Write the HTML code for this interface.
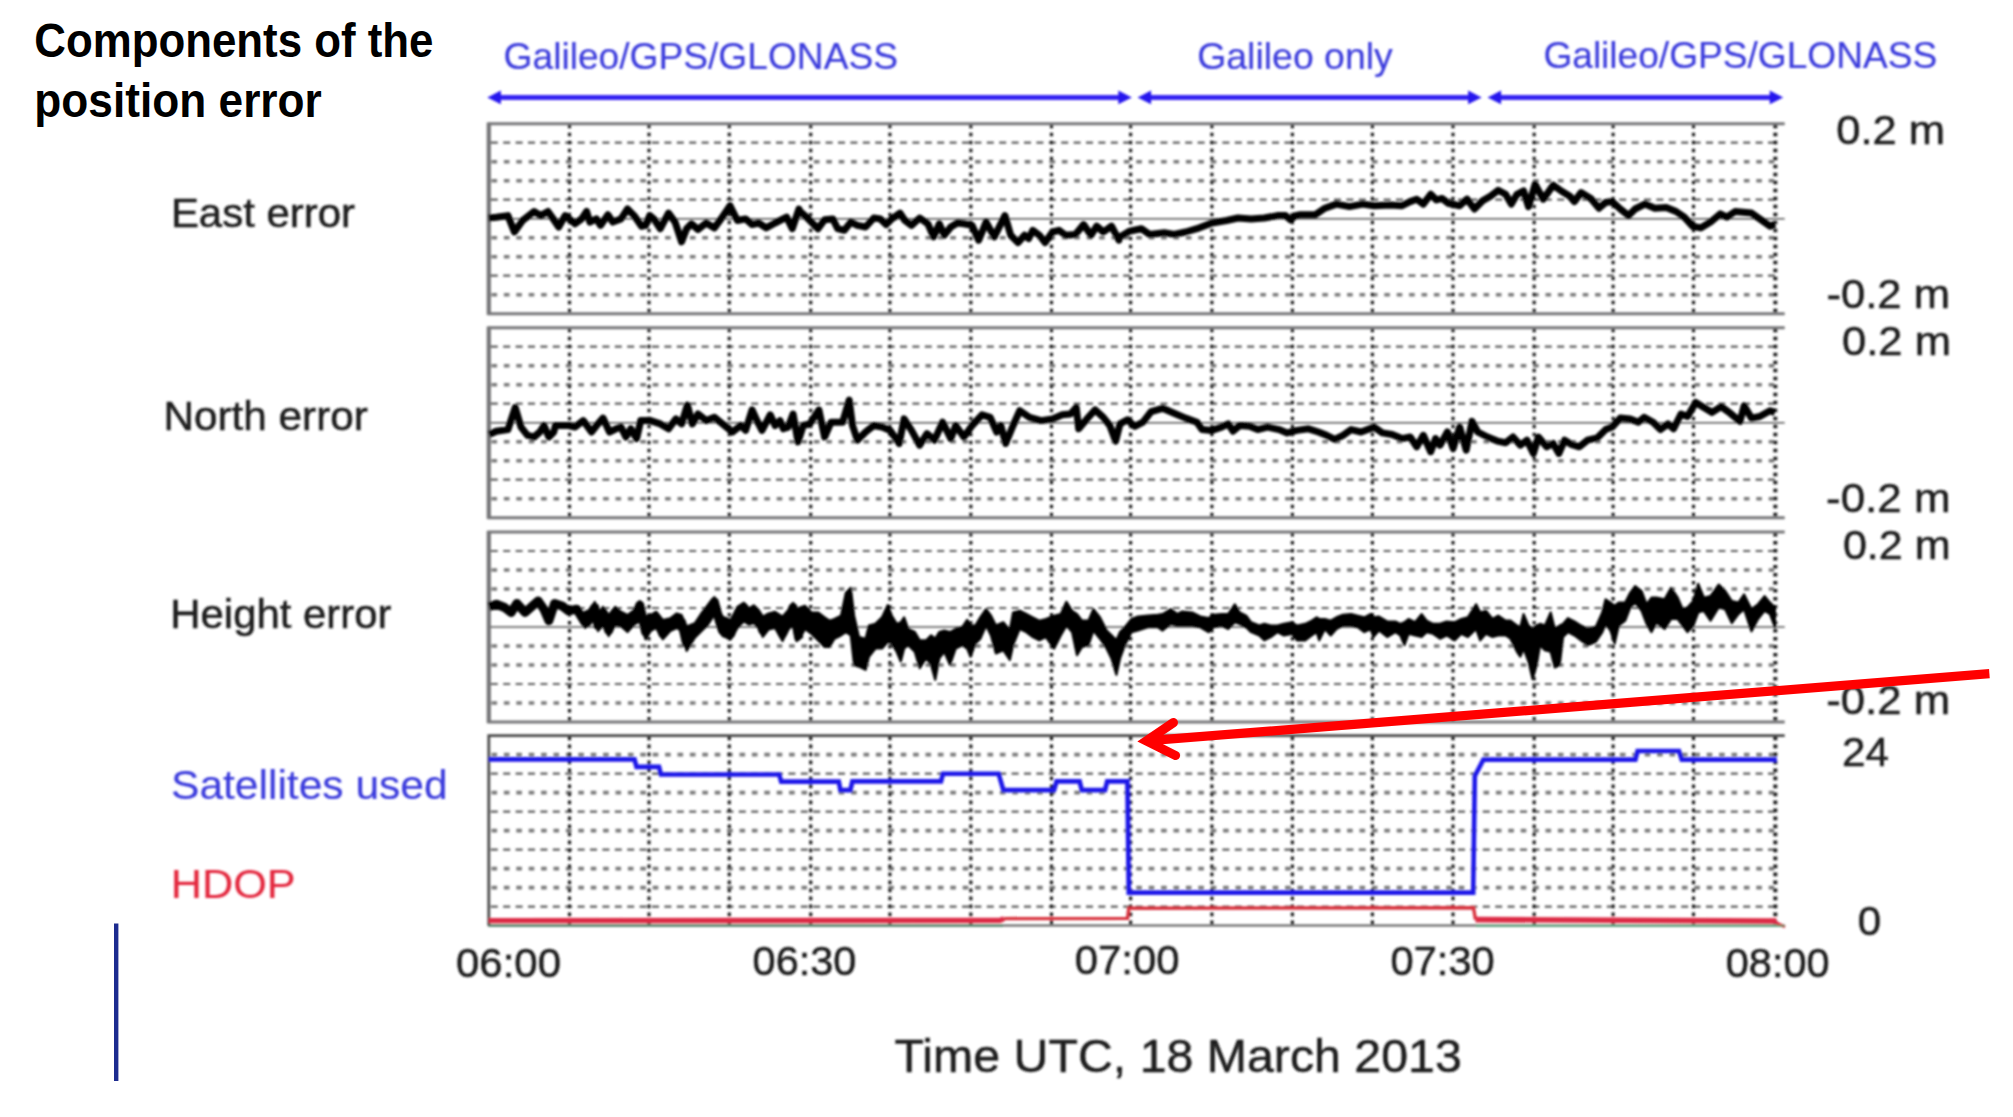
<!DOCTYPE html>
<html lang="en"><head><meta charset="utf-8"><title>Components of the position error</title>
<style>
html,body{margin:0;padding:0;background:#fff;}
body{width:2013px;height:1117px;overflow:hidden;position:relative;font-family:"Liberation Sans",sans-serif;}
svg{position:absolute;left:0;top:0;display:block;}
text{font-family:"Liberation Sans",sans-serif;}
.lbl{font-size:41px;fill:#1c1c1c;stroke:#1c1c1c;stroke-width:0.5px;}
.tick{font-size:40px;fill:#1c1c1c;stroke:#1c1c1c;stroke-width:0.5px;}
.blue{fill:#3a3adc;stroke:#3a3adc;stroke-width:0.15px;}
.red{fill:#e3283e;stroke:#e3283e;stroke-width:0.15px;}
.ttl{font-weight:700;font-size:47.5px;fill:#000;}
</style></head><body>
<svg width="2013" height="1117" viewBox="0 0 2013 1117">
<defs>
<filter id="bl" x="-2%" y="-2%" width="104%" height="104%"><feGaussianBlur stdDeviation="1.2"/></filter>
<filter id="bt" x="-2%" y="-10%" width="104%" height="120%"><feGaussianBlur stdDeviation="0.9"/></filter>
</defs>
<rect x="0" y="0" width="2013" height="1117" fill="#ffffff"/>
<g filter="url(#bl)">
<line x1="490.8" y1="142.7" x2="1775.5" y2="142.7" stroke="#5e5e5e" stroke-width="2.2" stroke-dasharray="7 5.4" fill="none"/>
<line x1="490.8" y1="161.7" x2="1775.5" y2="161.7" stroke="#7a7a7a" stroke-width="3.6" stroke-dasharray="5.6 6.8" stroke-dashoffset="-0.7" fill="none"/>
<line x1="490.8" y1="180.7" x2="1775.5" y2="180.7" stroke="#7a7a7a" stroke-width="3.6" stroke-dasharray="5.6 6.8" stroke-dashoffset="-0.7" fill="none"/>
<line x1="490.8" y1="199.7" x2="1775.5" y2="199.7" stroke="#5e5e5e" stroke-width="2.2" stroke-dasharray="7 5.4" fill="none"/>
<line x1="490.8" y1="237.7" x2="1775.5" y2="237.7" stroke="#7a7a7a" stroke-width="3.6" stroke-dasharray="5.6 6.8" stroke-dashoffset="-0.7" fill="none"/>
<line x1="490.8" y1="256.7" x2="1775.5" y2="256.7" stroke="#7a7a7a" stroke-width="3.6" stroke-dasharray="5.6 6.8" stroke-dashoffset="-0.7" fill="none"/>
<line x1="490.8" y1="275.7" x2="1775.5" y2="275.7" stroke="#5e5e5e" stroke-width="2.2" stroke-dasharray="7 5.4" fill="none"/>
<line x1="490.8" y1="294.7" x2="1775.5" y2="294.7" stroke="#7a7a7a" stroke-width="3.6" stroke-dasharray="5.6 6.8" stroke-dashoffset="-0.7" fill="none"/>
<g stroke="#1e1e1e" stroke-width="3.2" stroke-dasharray="3.6 4.4" fill="none">
<line x1="569.5" y1="124.7" x2="569.5" y2="313.7"/>
<line x1="649.0" y1="124.7" x2="649.0" y2="313.7"/>
<line x1="729.3" y1="124.7" x2="729.3" y2="313.7"/>
<line x1="810.7" y1="124.7" x2="810.7" y2="313.7"/>
<line x1="889.9" y1="124.7" x2="889.9" y2="313.7"/>
<line x1="970.8" y1="124.7" x2="970.8" y2="313.7"/>
<line x1="1051.5" y1="124.7" x2="1051.5" y2="313.7"/>
<line x1="1130.6" y1="124.7" x2="1130.6" y2="313.7"/>
<line x1="1211.9" y1="124.7" x2="1211.9" y2="313.7"/>
<line x1="1292.4" y1="124.7" x2="1292.4" y2="313.7"/>
<line x1="1372.4" y1="124.7" x2="1372.4" y2="313.7"/>
<line x1="1453.0" y1="124.7" x2="1453.0" y2="313.7"/>
<line x1="1534.2" y1="124.7" x2="1534.2" y2="313.7"/>
<line x1="1613.1" y1="124.7" x2="1613.1" y2="313.7"/>
<line x1="1693.5" y1="124.7" x2="1693.5" y2="313.7"/>
<line x1="1775.3" y1="124.7" x2="1775.3" y2="313.7" stroke-width="4"/>
</g>
<line x1="488.8" y1="218.7" x2="1784.7" y2="218.7" stroke="#555" stroke-width="1.6"/>
<path d="M1784.7 123.7 H488.8 V313.7 H1784.7" fill="none" stroke="#767678" stroke-width="3.1" stroke-linejoin="miter"/>
<line x1="488.8" y1="122.7" x2="488.8" y2="314.7" stroke="#767678" stroke-width="4.2"/>
<line x1="490.8" y1="346.7" x2="1775.5" y2="346.7" stroke="#5e5e5e" stroke-width="2.2" stroke-dasharray="7 5.4" fill="none"/>
<line x1="490.8" y1="365.7" x2="1775.5" y2="365.7" stroke="#7a7a7a" stroke-width="3.6" stroke-dasharray="5.6 6.8" stroke-dashoffset="-0.7" fill="none"/>
<line x1="490.8" y1="384.7" x2="1775.5" y2="384.7" stroke="#7a7a7a" stroke-width="3.6" stroke-dasharray="5.6 6.8" stroke-dashoffset="-0.7" fill="none"/>
<line x1="490.8" y1="403.7" x2="1775.5" y2="403.7" stroke="#5e5e5e" stroke-width="2.2" stroke-dasharray="7 5.4" fill="none"/>
<line x1="490.8" y1="441.7" x2="1775.5" y2="441.7" stroke="#7a7a7a" stroke-width="3.6" stroke-dasharray="5.6 6.8" stroke-dashoffset="-0.7" fill="none"/>
<line x1="490.8" y1="460.7" x2="1775.5" y2="460.7" stroke="#7a7a7a" stroke-width="3.6" stroke-dasharray="5.6 6.8" stroke-dashoffset="-0.7" fill="none"/>
<line x1="490.8" y1="479.7" x2="1775.5" y2="479.7" stroke="#5e5e5e" stroke-width="2.2" stroke-dasharray="7 5.4" fill="none"/>
<line x1="490.8" y1="498.7" x2="1775.5" y2="498.7" stroke="#7a7a7a" stroke-width="3.6" stroke-dasharray="5.6 6.8" stroke-dashoffset="-0.7" fill="none"/>
<g stroke="#1e1e1e" stroke-width="3.2" stroke-dasharray="3.6 4.4" fill="none">
<line x1="569.5" y1="328.7" x2="569.5" y2="517.7"/>
<line x1="649.0" y1="328.7" x2="649.0" y2="517.7"/>
<line x1="729.3" y1="328.7" x2="729.3" y2="517.7"/>
<line x1="810.7" y1="328.7" x2="810.7" y2="517.7"/>
<line x1="889.9" y1="328.7" x2="889.9" y2="517.7"/>
<line x1="970.8" y1="328.7" x2="970.8" y2="517.7"/>
<line x1="1051.5" y1="328.7" x2="1051.5" y2="517.7"/>
<line x1="1130.6" y1="328.7" x2="1130.6" y2="517.7"/>
<line x1="1211.9" y1="328.7" x2="1211.9" y2="517.7"/>
<line x1="1292.4" y1="328.7" x2="1292.4" y2="517.7"/>
<line x1="1372.4" y1="328.7" x2="1372.4" y2="517.7"/>
<line x1="1453.0" y1="328.7" x2="1453.0" y2="517.7"/>
<line x1="1534.2" y1="328.7" x2="1534.2" y2="517.7"/>
<line x1="1613.1" y1="328.7" x2="1613.1" y2="517.7"/>
<line x1="1693.5" y1="328.7" x2="1693.5" y2="517.7"/>
<line x1="1775.3" y1="328.7" x2="1775.3" y2="517.7" stroke-width="4"/>
</g>
<line x1="488.8" y1="422.7" x2="1784.7" y2="422.7" stroke="#555" stroke-width="1.6"/>
<path d="M1784.7 327.7 H488.8 V517.7 H1784.7" fill="none" stroke="#767678" stroke-width="3.1" stroke-linejoin="miter"/>
<line x1="488.8" y1="326.7" x2="488.8" y2="518.7" stroke="#767678" stroke-width="4.2"/>
<line x1="490.8" y1="551.0" x2="1775.5" y2="551.0" stroke="#5e5e5e" stroke-width="2.2" stroke-dasharray="7 5.4" fill="none"/>
<line x1="490.8" y1="570.0" x2="1775.5" y2="570.0" stroke="#7a7a7a" stroke-width="3.6" stroke-dasharray="5.6 6.8" stroke-dashoffset="-0.7" fill="none"/>
<line x1="490.8" y1="589.0" x2="1775.5" y2="589.0" stroke="#7a7a7a" stroke-width="3.6" stroke-dasharray="5.6 6.8" stroke-dashoffset="-0.7" fill="none"/>
<line x1="490.8" y1="608.0" x2="1775.5" y2="608.0" stroke="#5e5e5e" stroke-width="2.2" stroke-dasharray="7 5.4" fill="none"/>
<line x1="490.8" y1="646.0" x2="1775.5" y2="646.0" stroke="#7a7a7a" stroke-width="3.6" stroke-dasharray="5.6 6.8" stroke-dashoffset="-0.7" fill="none"/>
<line x1="490.8" y1="665.0" x2="1775.5" y2="665.0" stroke="#7a7a7a" stroke-width="3.6" stroke-dasharray="5.6 6.8" stroke-dashoffset="-0.7" fill="none"/>
<line x1="490.8" y1="684.0" x2="1775.5" y2="684.0" stroke="#5e5e5e" stroke-width="2.2" stroke-dasharray="7 5.4" fill="none"/>
<line x1="490.8" y1="703.0" x2="1775.5" y2="703.0" stroke="#7a7a7a" stroke-width="3.6" stroke-dasharray="5.6 6.8" stroke-dashoffset="-0.7" fill="none"/>
<g stroke="#1e1e1e" stroke-width="3.2" stroke-dasharray="3.6 4.4" fill="none">
<line x1="569.5" y1="533.0" x2="569.5" y2="722.0"/>
<line x1="649.0" y1="533.0" x2="649.0" y2="722.0"/>
<line x1="729.3" y1="533.0" x2="729.3" y2="722.0"/>
<line x1="810.7" y1="533.0" x2="810.7" y2="722.0"/>
<line x1="889.9" y1="533.0" x2="889.9" y2="722.0"/>
<line x1="970.8" y1="533.0" x2="970.8" y2="722.0"/>
<line x1="1051.5" y1="533.0" x2="1051.5" y2="722.0"/>
<line x1="1130.6" y1="533.0" x2="1130.6" y2="722.0"/>
<line x1="1211.9" y1="533.0" x2="1211.9" y2="722.0"/>
<line x1="1292.4" y1="533.0" x2="1292.4" y2="722.0"/>
<line x1="1372.4" y1="533.0" x2="1372.4" y2="722.0"/>
<line x1="1453.0" y1="533.0" x2="1453.0" y2="722.0"/>
<line x1="1534.2" y1="533.0" x2="1534.2" y2="722.0"/>
<line x1="1613.1" y1="533.0" x2="1613.1" y2="722.0"/>
<line x1="1693.5" y1="533.0" x2="1693.5" y2="722.0"/>
<line x1="1775.3" y1="533.0" x2="1775.3" y2="722.0" stroke-width="4"/>
</g>
<line x1="488.8" y1="627.0" x2="1784.7" y2="627.0" stroke="#555" stroke-width="1.6"/>
<path d="M1784.7 532.0 H488.8 V722.0 H1784.7" fill="none" stroke="#767678" stroke-width="3.1" stroke-linejoin="miter"/>
<line x1="488.8" y1="531.0" x2="488.8" y2="723.0" stroke="#767678" stroke-width="4.2"/>
<line x1="490.8" y1="754.6" x2="1775.5" y2="754.6" stroke="#7a7a7a" stroke-width="3.6" stroke-dasharray="5.6 6.8" stroke-dashoffset="-0.7" fill="none"/>
<line x1="490.8" y1="773.6" x2="1775.5" y2="773.6" stroke="#5e5e5e" stroke-width="2.2" stroke-dasharray="7 5.4" fill="none"/>
<line x1="490.8" y1="792.6" x2="1775.5" y2="792.6" stroke="#7a7a7a" stroke-width="3.6" stroke-dasharray="5.6 6.8" stroke-dashoffset="-0.7" fill="none"/>
<line x1="490.8" y1="811.6" x2="1775.5" y2="811.6" stroke="#5e5e5e" stroke-width="2.2" stroke-dasharray="7 5.4" fill="none"/>
<line x1="490.8" y1="830.6" x2="1775.5" y2="830.6" stroke="#7a7a7a" stroke-width="3.6" stroke-dasharray="5.6 6.8" stroke-dashoffset="-0.7" fill="none"/>
<line x1="490.8" y1="849.6" x2="1775.5" y2="849.6" stroke="#5e5e5e" stroke-width="2.2" stroke-dasharray="7 5.4" fill="none"/>
<line x1="490.8" y1="868.6" x2="1775.5" y2="868.6" stroke="#7a7a7a" stroke-width="3.6" stroke-dasharray="5.6 6.8" stroke-dashoffset="-0.7" fill="none"/>
<line x1="490.8" y1="887.6" x2="1775.5" y2="887.6" stroke="#7a7a7a" stroke-width="3.6" stroke-dasharray="5.6 6.8" stroke-dashoffset="-0.7" fill="none"/>
<line x1="490.8" y1="906.6" x2="1775.5" y2="906.6" stroke="#5e5e5e" stroke-width="2.2" stroke-dasharray="7 5.4" fill="none"/>
<g stroke="#1e1e1e" stroke-width="3.2" stroke-dasharray="3.6 4.4" fill="none">
<line x1="569.5" y1="736.6" x2="569.5" y2="925.6"/>
<line x1="649.0" y1="736.6" x2="649.0" y2="925.6"/>
<line x1="729.3" y1="736.6" x2="729.3" y2="925.6"/>
<line x1="810.7" y1="736.6" x2="810.7" y2="925.6"/>
<line x1="889.9" y1="736.6" x2="889.9" y2="925.6"/>
<line x1="970.8" y1="736.6" x2="970.8" y2="925.6"/>
<line x1="1051.5" y1="736.6" x2="1051.5" y2="925.6"/>
<line x1="1130.6" y1="736.6" x2="1130.6" y2="925.6"/>
<line x1="1211.9" y1="736.6" x2="1211.9" y2="925.6"/>
<line x1="1292.4" y1="736.6" x2="1292.4" y2="925.6"/>
<line x1="1372.4" y1="736.6" x2="1372.4" y2="925.6"/>
<line x1="1453.0" y1="736.6" x2="1453.0" y2="925.6"/>
<line x1="1534.2" y1="736.6" x2="1534.2" y2="925.6"/>
<line x1="1613.1" y1="736.6" x2="1613.1" y2="925.6"/>
<line x1="1693.5" y1="736.6" x2="1693.5" y2="925.6"/>
<line x1="1775.3" y1="736.6" x2="1775.3" y2="925.6" stroke-width="4"/>
</g>
<path d="M1784.7 735.6 H488.8 V925.6" fill="none" stroke="#4a4a4a" stroke-width="2.8" stroke-linejoin="miter"/>
<line x1="487.8" y1="925.6" x2="1784.7" y2="925.6" stroke="#5a5a5a" stroke-width="2"/>
<polyline points="488.5,218.0 496.4,217.2 507.9,215.6 514.4,232.0 522.6,220.5 534.1,211.5 540.7,215.6 548.0,211.5 552.1,217.2 558.7,227.0 565.2,215.6 569.3,218.9 575.1,223.8 581.6,218.9 586.6,211.5 589.8,222.1 596.4,218.9 600.5,225.4 607.9,214.8 612.8,222.1 621.0,218.9 627.5,209.0 634.1,215.6 641.5,226.2 645.6,225.4 649.7,215.6 653.8,218.9 660.3,228.7 668.5,213.1 675.1,222.1 681.6,241.8 686.6,228.7 691.5,223.8 698.0,229.5 706.2,223.0 714.4,227.9 721.0,218.9 730.0,205.7 737.4,220.5 745.6,218.9 752.1,224.6 758.7,223.0 766.1,227.9 775.1,223.0 786.6,217.2 792.3,228.7 798.9,209.0 800.0,211.5 806.6,217.2 818.0,228.7 824.6,219.7 832.8,218.9 837.7,228.7 844.3,230.3 850.8,222.1 857.4,225.4 865.6,227.0 873.8,218.0 880.3,218.9 886.1,224.6 891.8,218.9 900.0,213.1 904.9,220.5 911.5,225.4 919.7,218.0 927.9,223.8 933.6,236.9 939.3,223.8 944.3,235.2 950.8,227.0 957.4,223.0 963.9,223.8 972.1,225.4 978.7,240.2 986.1,222.1 994.3,236.9 1004.9,215.6 1010.7,235.2 1018.0,242.6 1024.6,235.2 1028.7,238.5 1032.8,230.3 1039.3,235.2 1045.1,242.6 1052.5,232.0 1059.0,230.3 1065.6,235.2 1075.4,234.4 1083.6,224.6 1091.0,235.2 1096.7,226.2 1103.3,232.0 1111.5,226.2 1118.9,240.2 1120.0,236.9 1129.8,231.1 1141.3,228.7 1149.5,234.4 1164.3,232.8 1174.1,234.4 1185.6,232.0 1197.0,228.7 1211.8,223.0 1226.6,220.5 1238.0,218.0 1251.1,218.9 1264.3,218.0 1277.4,215.6 1285.6,215.6 1290.5,219.7 1295.4,215.6 1300.3,214.8 1315.1,214.8 1324.9,208.2 1336.4,204.1 1349.5,206.6 1362.6,204.1 1374.1,205.7 1390.5,204.9 1402.0,205.7 1410.2,201.6 1416.7,199.2 1423.3,204.1 1430.7,194.3 1436.4,200.0 1442.1,198.4 1448.2,203.3 1459.7,205.7 1467.0,199.2 1474.4,209.0 1482.6,200.8 1490.8,195.9 1498.2,190.2 1505.6,194.3 1511.3,204.1 1517.0,194.3 1523.6,191.0 1528.5,206.6 1535.1,184.4 1543.3,199.2 1553.1,185.2 1561.3,191.0 1569.5,195.9 1574.4,201.6 1581.0,192.6 1590.8,198.4 1599.0,208.2 1605.6,202.5 1612.1,201.6 1620.3,209.0 1628.5,215.6 1635.1,209.0 1644.9,204.1 1654.8,208.2 1666.2,207.4 1676.1,211.5 1684.3,217.2 1692.5,226.2 1700.7,227.9 1710.5,222.1 1720.3,213.9 1726.9,217.2 1735.1,211.5 1743.3,212.3 1751.5,213.1 1759.7,218.9 1770.0,226.2 1774.9,224.1" fill="none" stroke="#000" stroke-width="7" stroke-linejoin="round" stroke-linecap="butt"/>
<polyline points="489.0,434.5 496.4,431.2 507.9,429.6 515.2,407.5 521.0,427.1 527.5,435.3 534.1,437.0 539.8,432.0 543.9,425.5 548.9,437.0 553.8,432.0 555.4,425.5 568.5,425.5 575.1,427.1 583.3,420.6 591.5,432.0 598.0,423.9 603.0,418.1 609.5,432.0 616.1,428.8 621.0,427.1 625.9,437.0 630.8,428.8 636.6,438.6 640.7,420.6 650.5,420.6 660.3,423.9 668.5,428.8 675.9,418.9 681.6,423.9 687.4,405.0 692.3,423.9 698.0,414.0 706.2,420.6 714.4,417.3 722.6,423.9 732.5,432.0 740.7,425.5 745.6,430.4 752.1,409.9 757.0,420.6 762.0,430.4 770.2,414.8 775.1,425.5 780.0,420.6 783.3,428.8 788.2,427.1 793.1,414.0 798.0,441.9 803.3,425.5 809.8,423.9 818.9,409.9 824.6,437.0 831.1,422.2 842.6,422.2 849.2,400.1 852.5,425.5 857.4,440.2 865.6,432.0 873.8,425.5 882.0,427.1 890.2,430.4 899.2,443.5 904.1,418.9 911.5,430.4 919.7,445.2 927.0,433.7 934.4,440.2 942.6,422.2 950.8,438.6 955.7,425.5 963.9,437.0 972.1,425.5 982.0,414.8 990.2,417.3 996.7,432.0 1000.8,425.5 1005.7,443.5 1013.1,425.5 1019.7,410.7 1029.5,417.3 1041.0,420.6 1052.5,418.9 1062.3,414.8 1070.5,414.0 1076.2,407.5 1078.7,428.8 1086.9,418.9 1095.1,409.9 1103.3,417.3 1109.8,425.5 1115.6,441.1 1120.0,423.9 1127.4,419.8 1134.8,426.3 1143.0,422.2 1151.1,411.6 1162.6,408.3 1174.1,413.2 1185.6,418.1 1197.0,422.2 1202.0,429.6 1211.8,430.4 1221.6,427.1 1228.2,423.9 1233.1,431.2 1239.7,425.5 1249.5,426.3 1257.7,429.6 1267.5,427.1 1279.0,429.6 1287.2,432.9 1297.0,430.4 1308.5,428.8 1318.4,432.0 1326.6,435.3 1334.8,439.4 1343.0,435.3 1351.1,429.6 1361.0,432.0 1374.1,427.1 1382.3,432.9 1392.1,434.5 1402.0,438.6 1410.2,437.0 1416.7,446.8 1423.3,435.3 1430.7,451.7 1435.6,438.6 1440.0,445.2 1447.4,432.0 1453.1,448.4 1459.7,427.1 1466.2,450.1 1472.0,421.4 1477.7,432.0 1487.5,437.0 1497.4,441.1 1505.6,442.7 1513.0,437.0 1520.3,445.2 1526.9,440.2 1533.4,453.4 1538.4,437.0 1546.6,446.8 1553.1,443.5 1558.9,453.4 1564.6,440.2 1571.1,444.3 1579.3,446.8 1587.5,440.2 1597.4,437.8 1605.6,429.6 1612.1,427.1 1620.3,418.1 1630.2,418.9 1638.4,422.2 1644.1,417.3 1653.1,422.2 1660.5,429.6 1667.9,423.9 1673.6,428.8 1681.0,414.0 1687.5,416.5 1695.7,402.5 1703.9,407.5 1712.1,412.4 1721.1,406.6 1730.2,413.2 1740.0,421.4 1744.1,405.8 1751.5,418.1 1759.7,416.5 1770.0,410.7 1774.9,412.4" fill="none" stroke="#000" stroke-width="7" stroke-linejoin="round" stroke-linecap="butt"/>
<polyline points="489.0,606.7 496.4,604.3 504.6,607.5 511.1,612.5 516.9,603.4 525.1,612.5 532.5,605.9 538.2,601.0 543.9,609.2 548.9,620.7 554.6,603.4 562.0,605.9 568.5,610.8 576.7,609.2 584.9,622.3 594.8,607.5 598.0,625.6 603.0,612.5 608.7,630.5 615.2,612.5 621.0,620.7 627.5,625.6 634.1,619.0 639.8,605.1 645.6,632.1 650.5,623.9 656.2,617.4 662.8,633.8 670.2,625.6 676.7,619.0 681.6,622.3 686.6,643.6 694.8,630.5 701.3,622.3 707.9,610.8 714.4,601.8 719.3,620.7 722.6,630.5 730.8,633.8 737.4,615.7 743.9,607.5 748.9,619.0 753.8,610.8 758.7,619.0 762.8,630.5 768.5,620.7 775.1,617.4 782.5,633.8 788.2,622.3 793.1,607.5 798.9,638.7" fill="none" stroke="#000" stroke-width="9" stroke-linejoin="round"/>
<polygon points="584.9,611.8 589.8,610.2 594.8,602.0 598.0,615.1 603.0,606.9 608.7,615.1 615.2,606.9 621.0,611.8 627.5,615.1 634.1,610.2 639.8,601.2 645.6,616.7 650.5,615.1 656.2,611.8 662.8,620.0 670.2,618.4 676.7,613.5 681.6,615.1 686.6,626.6 694.8,623.3 701.3,613.5 707.9,605.3 714.4,597.1 719.3,610.2 722.6,616.7 730.8,620.0 737.4,606.9 743.9,602.8 748.9,608.5 753.8,605.3 758.7,610.2 762.8,616.7 768.5,613.5 775.1,611.8 782.5,616.7 788.2,610.2 793.1,602.8 796.4,610.2 800.0,607.5 804.9,605.9 811.5,612.5 818.0,612.5 824.6,617.4 829.5,620.7 834.4,619.0 841.0,615.7 845.9,592.8 850.8,587.9 854.1,615.7 859.0,637.0 865.6,638.7 868.9,625.6 875.4,623.9 882.0,617.4 887.7,605.1 891.8,615.7 896.7,623.9 900.8,622.3 904.1,617.4 908.2,628.9 914.8,632.1 919.7,640.3 926.2,640.3 931.1,635.4 935.2,638.7 939.3,632.1 944.3,630.5 950.0,632.1 955.7,628.9 962.3,627.2 967.2,619.8 970.5,625.6 975.4,625.6 980.3,617.4 986.1,609.2 991.0,615.7 995.9,625.6 1003.3,622.3 1009.8,630.5 1013.1,612.5 1019.7,610.8 1026.2,614.1 1032.8,617.4 1039.3,620.7 1045.9,619.0 1054.1,615.7 1060.7,614.1 1066.4,601.8 1072.1,610.8 1077.0,614.1 1082.0,620.7 1088.5,620.7 1093.4,609.2 1100.0,617.4 1106.6,630.5 1111.5,635.4 1116.4,640.3 1120.0,632.1 1124.9,627.2 1131.5,619.0 1138.0,616.6 1147.9,615.7 1157.7,614.9 1162.6,614.1 1170.8,609.2 1177.4,614.1 1182.3,611.6 1192.1,612.5 1200.3,616.6 1208.5,618.2 1213.4,614.9 1221.6,614.1 1228.2,614.1 1234.8,604.3 1239.7,612.5 1246.2,615.7 1251.1,622.3 1259.3,625.6 1264.3,623.9 1270.8,625.6 1277.4,625.6 1283.9,623.9 1292.1,622.3 1297.0,625.6 1305.2,623.9 1311.8,620.7 1316.7,617.4 1319.2,619.0 1324.9,619.0 1330.7,620.7 1336.4,617.4 1343.0,614.9 1351.1,614.1 1357.7,615.7 1364.3,617.4 1370.8,614.1 1373.3,617.4 1379.0,616.6 1387.2,621.5 1395.4,621.5 1400.3,623.9 1404.4,622.3 1408.5,619.0 1415.1,622.3 1421.6,614.1 1426.6,620.7 1433.1,623.9 1440.0,623.9 1446.6,621.5 1454.8,622.3 1461.3,619.0 1467.9,617.4 1476.1,604.3 1480.2,612.5 1485.9,610.8 1492.5,619.0 1498.2,615.7 1505.6,620.7 1510.5,620.7 1517.0,625.6 1520.3,627.2 1523.6,614.1 1528.5,625.6 1532.6,628.9 1536.7,625.6 1540.0,623.9 1544.9,625.6 1550.7,612.5 1554.8,628.9 1559.7,625.6 1563.0,623.9 1567.9,618.2 1574.4,621.5 1581.0,625.6 1587.5,628.9 1595.7,627.2 1602.3,612.5 1605.6,599.3 1610.5,602.6 1614.6,605.9 1618.7,602.6 1625.2,602.6 1630.2,592.8 1635.1,586.2 1641.6,591.1 1646.6,604.3 1651.5,597.7 1656.4,597.7 1664.6,599.3 1671.1,587.9 1677.7,597.7 1682.6,609.2 1687.5,607.5 1693.3,601.0 1698.2,583.8 1703.9,597.7 1710.5,596.1 1718.7,584.6 1725.2,591.1 1731.8,601.0 1738.4,602.6 1744.1,594.4 1751.5,609.2 1758.0,604.3 1764.6,596.1 1770.0,602.6 1774.9,607.5 1774.9,627.2 1770.0,614.1 1764.6,610.8 1758.0,619.0 1751.5,631.3 1744.1,609.2 1738.4,614.1 1731.8,623.1 1725.2,609.2 1718.7,607.5 1710.5,620.7 1703.9,610.8 1698.2,612.5 1693.3,625.6 1687.5,632.1 1682.6,625.6 1677.7,619.0 1671.1,619.0 1664.6,628.9 1656.4,622.3 1651.5,632.1 1646.6,623.9 1641.6,610.8 1635.1,602.6 1630.2,607.5 1625.2,620.7 1618.7,625.6 1614.6,643.6 1610.5,630.5 1605.6,623.9 1602.3,632.1 1595.7,642.0 1587.5,645.2 1581.0,640.3 1574.4,635.4 1567.9,632.1 1563.0,637.0 1559.7,664.9 1554.8,667.4 1550.7,651.8 1544.9,650.2 1540.0,645.2 1536.7,664.9 1532.6,678.9 1528.5,661.6 1523.6,648.5 1520.3,656.7 1517.0,651.8 1510.5,638.7 1505.6,635.4 1498.2,635.4 1492.5,637.0 1485.9,633.8 1480.2,640.3 1476.1,628.9 1467.9,637.0 1461.3,633.8 1454.8,640.3 1446.6,635.4 1440.0,638.7 1433.1,633.8 1426.6,632.1 1421.6,637.0 1415.1,635.4 1408.5,633.8 1404.4,645.2 1400.3,635.4 1395.4,632.1 1387.2,637.0 1379.0,630.5 1373.3,637.0 1370.8,628.9 1364.3,632.1 1357.7,627.2 1351.1,625.6 1343.0,625.6 1336.4,628.9 1330.7,635.4 1324.9,628.9 1319.2,640.3 1316.7,632.1 1311.8,635.4 1305.2,640.3 1297.0,640.3 1292.1,633.8 1283.9,635.4 1277.4,632.1 1270.8,637.0 1264.3,640.3 1259.3,635.4 1251.1,632.1 1246.2,627.2 1239.7,623.9 1234.8,622.3 1228.2,628.9 1221.6,625.6 1213.4,627.2 1208.5,632.1 1200.3,627.2 1192.1,625.6 1182.3,625.6 1177.4,625.6 1170.8,623.9 1162.6,630.5 1157.7,627.2 1147.9,627.2 1138.0,630.5 1131.5,632.1 1124.9,645.2 1120.0,658.4 1116.4,674.8 1111.5,658.4 1106.6,648.5 1100.0,638.7 1093.4,630.5 1088.5,645.2 1082.0,646.9 1077.0,655.1 1072.1,632.1 1066.4,625.6 1060.7,635.4 1054.1,648.5 1045.9,637.0 1039.3,640.3 1032.8,637.0 1026.2,632.1 1019.7,628.9 1013.1,645.2 1009.8,660.0 1003.3,650.2 995.9,653.4 991.0,635.4 986.1,625.6 980.3,638.7 975.4,643.6 970.5,656.7 967.2,648.5 962.3,645.2 955.7,648.5 950.0,664.9 944.3,651.8 939.3,658.4 935.2,679.7 931.1,664.9 926.2,658.4 919.7,668.2 914.8,651.8 908.2,645.2 904.1,648.5 900.8,661.6 896.7,651.8 891.8,643.6 887.7,642.0 882.0,648.5 875.4,648.5 868.9,656.7 865.6,669.8 859.0,666.6 854.1,664.9 850.8,635.4 845.9,632.1 841.0,635.4 834.4,638.7 829.5,646.9 824.6,646.9 818.0,640.3 811.5,633.8 804.9,628.9 800.0,638.7 796.4,641.0 793.1,624.6 788.2,629.5 782.5,641.0 775.1,627.9 768.5,629.5 762.8,636.9 758.7,627.9 753.8,622.9 748.9,624.6 743.9,621.3 737.4,627.9 730.8,639.3 722.6,636.0 719.3,631.1 714.4,614.7 707.9,624.6 701.3,631.1 694.8,637.7 686.6,650.8 681.6,631.1 676.7,627.9 670.2,631.1 662.8,639.3 656.2,627.9 650.5,631.1 645.6,639.3 639.8,621.3 634.1,624.6 627.5,632.0 621.0,626.2 615.2,624.6 608.7,636.0 603.0,624.6 598.0,631.1 594.8,618.0 589.8,624.6 584.9,627.9" fill="#000" stroke="#000" stroke-width="2.2" stroke-linejoin="round"/>
<polyline points="488.8,920.6 1000.0,920.4 1004.0,918.6" fill="none" stroke="#dc2a44" stroke-width="5.4"/>
<polyline points="1004.0,918.6 1127.5,918.4 1128.8,908.2 1473.5,907.7 1475.5,919.6" fill="none" stroke="#d8303c" stroke-width="3.4" stroke-linejoin="miter"/>
<polyline points="1475.5,919.6 1776.5,921.0" fill="none" stroke="#dc2a44" stroke-width="5.6"/>
<path d="M1775 922 L1785 927" stroke="#dc2a44" stroke-width="3" fill="none"/>
<line x1="488.8" y1="925.6" x2="1003" y2="925.6" stroke="#3f7a58" stroke-width="1.6"/>
<line x1="1476" y1="925.8" x2="1784.7" y2="925.8" stroke="#3f9a68" stroke-width="1.6"/>
<polyline points="488.8,759.4 634.5,759.4 636.5,766.9 659.0,766.9 661.0,774.5 779.2,774.5 781.2,781.6 838.8,781.6 840.4,790.1 850.4,790.1 852.4,781.4 941.0,781.4 943.0,773.7 998.6,773.7 1003.4,790.1 1054.0,790.1 1056.6,781.4 1079.6,781.4 1081.8,790.1 1105.0,790.1 1107.2,781.4 1127.4,781.4 1128.8,892.6 1473.2,892.6 1474.8,776.0 1483.4,759.6 1635.4,759.6 1637.6,751.0 1679.0,751.0 1681.8,759.6 1776.8,759.6" fill="none" stroke="#1a14e8" stroke-width="4.6" stroke-linejoin="miter"/>
<g stroke="#3524f2" stroke-width="5" fill="none">
<line x1="498" y1="97.4" x2="1122" y2="97.4"/><line x1="1147" y1="97.4" x2="1473" y2="97.4"/><line x1="1497" y1="97.4" x2="1772" y2="97.4"/></g>
<polygon points="487.4,97.4 500.9,90.60000000000001 500.9,104.2" fill="#2614ee"/>
<polygon points="1131.8,97.4 1118.3,90.60000000000001 1118.3,104.2" fill="#2614ee"/>
<polygon points="1137.6,97.4 1151.1,90.60000000000001 1151.1,104.2" fill="#2614ee"/>
<polygon points="1481.6,97.4 1468.1,90.60000000000001 1468.1,104.2" fill="#2614ee"/>
<polygon points="1487.6,97.4 1501.1,90.60000000000001 1501.1,104.2" fill="#2614ee"/>
<polygon points="1783.2,97.4 1769.7,90.60000000000001 1769.7,104.2" fill="#2614ee"/>
</g>
<g filter="url(#bt)">
<text class="blue" x="503.6" y="69.4" textLength="394.4" lengthAdjust="spacingAndGlyphs" style="font-size:37px">Galileo/GPS/GLONASS</text>
<text class="blue" x="1197.2" y="68.5" textLength="195.6" lengthAdjust="spacingAndGlyphs" style="font-size:37px">Galileo only</text>
<text class="blue" x="1543.4" y="68.4" textLength="393.8" lengthAdjust="spacingAndGlyphs" style="font-size:37px">Galileo/GPS/GLONASS</text>
<text class="lbl" x="170.9" y="227.2" textLength="184.1" lengthAdjust="spacingAndGlyphs">East error</text>
<text class="lbl" x="163.5" y="430.4" textLength="204.3" lengthAdjust="spacingAndGlyphs">North error</text>
<text class="lbl" x="170.3" y="627.8" textLength="221.1" lengthAdjust="spacingAndGlyphs">Height error</text>
<text class="lbl blue" x="171.0" y="798.7" textLength="276.7" lengthAdjust="spacingAndGlyphs">Satellites used</text>
<text class="lbl red" x="170.8" y="897.9" textLength="124.9" lengthAdjust="spacingAndGlyphs">HDOP</text>
<text class="tick" x="1836.2" y="143.7" textLength="108.9" lengthAdjust="spacingAndGlyphs">0.2 m</text>
<text class="tick" x="1826.5" y="308.0" textLength="123.5" lengthAdjust="spacingAndGlyphs">-0.2 m</text>
<text class="tick" x="1842.1" y="354.8" textLength="108.8" lengthAdjust="spacingAndGlyphs">0.2 m</text>
<text class="tick" x="1826.0" y="511.6" textLength="124.7" lengthAdjust="spacingAndGlyphs">-0.2 m</text>
<text class="tick" x="1842.9" y="558.6" textLength="107.8" lengthAdjust="spacingAndGlyphs">0.2 m</text>
<text class="tick" x="1826.2" y="713.8" textLength="123.9" lengthAdjust="spacingAndGlyphs">-0.2 m</text>
<text class="tick" x="1841.9" y="765.5" textLength="47.0" lengthAdjust="spacingAndGlyphs">24</text>
<text class="tick" x="1857.7" y="934.6" textLength="23.4" lengthAdjust="spacingAndGlyphs">0</text>
<text class="tick" x="456.0" y="976.6" textLength="105.0" lengthAdjust="spacingAndGlyphs">06:00</text>
<text class="tick" x="752.6" y="974.7" textLength="103.7" lengthAdjust="spacingAndGlyphs">06:30</text>
<text class="tick" x="1074.8" y="974.2" textLength="104.7" lengthAdjust="spacingAndGlyphs">07:00</text>
<text class="tick" x="1390.6" y="974.7" textLength="104.1" lengthAdjust="spacingAndGlyphs">07:30</text>
<text class="tick" x="1725.8" y="976.6" textLength="103.7" lengthAdjust="spacingAndGlyphs">08:00</text>
<text class="tick" x="894.6" y="1072.3" textLength="567.2" lengthAdjust="spacingAndGlyphs" style="font-size:47px">Time UTC, 18 March 2013</text>
</g>
<line x1="116.2" y1="923.5" x2="116.2" y2="1081" stroke="#1c2b8f" stroke-width="4.4"/>
<line x1="1146.4" y1="740.9" x2="1989.4" y2="673.7" stroke="#ff0000" stroke-width="9.2"/>
<polyline points="1173.4,722.6 1146.4,740.9 1175.5,755.5" fill="none" stroke="#ff0000" stroke-width="9.2" stroke-linecap="round" stroke-linejoin="miter" stroke-miterlimit="10"/>
<text class="ttl" x="34.3" y="57.3" textLength="399.2" lengthAdjust="spacingAndGlyphs">Components of the</text>
<text class="ttl" x="34.3" y="117.2" textLength="287.5" lengthAdjust="spacingAndGlyphs">position error</text>
</svg>
</body></html>
